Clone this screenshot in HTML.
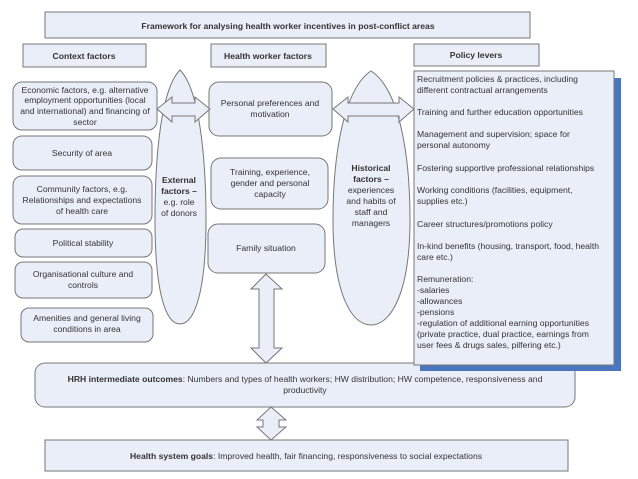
<!DOCTYPE html>
<html><head><meta charset="utf-8"><style>
body{margin:0;background:#fff}
svg{display:block}
text{font-family:"Liberation Sans",sans-serif;font-size:8.6px;fill:#333}
.b{font-weight:bold}
</style></head><body>
<svg width="638" height="479" viewBox="0 0 638 479" xmlns="http://www.w3.org/2000/svg">
<g fill="#e9eef8" stroke="#777" stroke-width="1">
<rect x="45" y="12" width="485" height="26"/>
<rect x="23" y="44" width="123" height="23"/>
<rect x="211" y="44" width="115" height="23"/>
<rect x="414" y="44" width="125" height="22"/>
<rect x="13" y="82" width="144" height="48" rx="9"/>
<rect x="13" y="136" width="139" height="34" rx="9"/>
<rect x="13" y="176" width="139" height="48" rx="9"/>
<rect x="15" y="229" width="137" height="28" rx="8"/>
<rect x="15" y="262" width="137" height="36" rx="8"/>
<rect x="21" y="308" width="132" height="34" rx="8"/>
<path d="M180,70 C198,88 206,150 206,220 C206,290 195,324 180,324 C165,324 155,290 155,220 C155,150 162,88 180,70 Z"/>
<path d="M371,71 C398,88 410,150 410,220 C410,290 392,325 371,325 C350,325 333,290 333,220 C333,150 345,88 371,71 Z"/>
<rect x="209" y="82" width="123" height="54" rx="10"/>
<rect x="211" y="158" width="117" height="51" rx="10"/>
<rect x="208" y="224" width="117" height="49" rx="10"/>
<polygon points="157,109 172,97 172,103 195,103 195,97 210,109 195,122 195,116 172,116 172,122"/>
<polygon points="333,109 348,97 348,103 399,103 399,97 414,109 399,122 399,116 348,116 348,122"/>
<polygon points="266,274 282,289 274,289 274,348 282,348 266,363 251,348 259,348 259,289 251,289"/>
<rect x="35" y="363" width="540" height="44" rx="10"/>
<polygon points="271,407 286,420 279,420 279,427 286,427 271,440 257,427 263,427 263,420 257,420"/>
<rect x="45" y="440" width="523" height="31"/>
</g>
<rect x="420" y="78" width="201" height="293" fill="#4a76c0"/>
<rect x="414" y="71" width="200" height="294" fill="#e9eef8" stroke="#777"/>
<g text-anchor="middle">
<text x="288" y="29" class="b">Framework for analysing health worker incentives in post-conflict areas</text>
<text x="84" y="59" class="b">Context factors</text>
<text x="268" y="59" class="b">Health worker factors</text>
<text x="476" y="58" class="b">Policy levers</text>
<text x="85" y="93">Economic factors, e.g. alternative</text>
<text x="85" y="103">employment opportunities (local</text>
<text x="85" y="114">and international) and financing of</text>
<text x="85" y="125">sector</text>
<text x="82" y="156">Security of area</text>
<text x="82" y="192">Community factors, e.g.</text>
<text x="82" y="203">Relationships and expectations</text>
<text x="82" y="214">of health care</text>
<text x="83" y="246">Political stability</text>
<text x="83" y="277">Organisational culture and</text>
<text x="83" y="288">controls</text>
<text x="87" y="321">Amenities and general living</text>
<text x="87" y="332">conditions in area</text>
<text x="179" y="183" class="b">External</text>
<text x="179" y="194" class="b">factors –</text>
<text x="179" y="205">e.g. role</text>
<text x="179" y="216">of donors</text>
<text x="371" y="171" class="b">Historical</text>
<text x="371" y="182" class="b">factors –</text>
<text x="371" y="193">experiences</text>
<text x="371" y="204">and habits of</text>
<text x="371" y="215">staff and</text>
<text x="371" y="226">managers</text>
<text x="270" y="106">Personal preferences and</text>
<text x="270" y="117">motivation</text>
<text x="270" y="175">Training, experience,</text>
<text x="270" y="186">gender and personal</text>
<text x="270" y="197">capacity</text>
<text x="266" y="251">Family situation</text>
<text x="305" y="382"><tspan class="b">HRH intermediate outcomes</tspan>: Numbers and types of health workers; HW distribution; HW competence, responsiveness and</text>
<text x="305" y="393">productivity</text>
<text x="306" y="459"><tspan class="b">Health system goals</tspan>: Improved health, fair financing, responsiveness to social expectations</text>
</g>
<g>
<text x="417" y="82">Recruitment policies &amp; practices, including</text>
<text x="417" y="93">different contractual arrangements</text>
<text x="417" y="115">Training and further education opportunities</text>
<text x="417" y="137">Management and supervision; space for</text>
<text x="417" y="148">personal autonomy</text>
<text x="417" y="171">Fostering supportive professional relationships</text>
<text x="417" y="193">Working conditions (facilities, equipment,</text>
<text x="417" y="204">supplies etc.)</text>
<text x="417" y="227">Career structures/promotions policy</text>
<text x="417" y="249">In-kind benefits (housing, transport, food, health</text>
<text x="417" y="260">care etc.)</text>
<text x="417" y="282">Remuneration:</text>
<text x="417" y="293">-salaries</text>
<text x="417" y="304">-allowances</text>
<text x="417" y="315">-pensions</text>
<text x="417" y="326">-regulation of additional earning opportunities</text>
<text x="417" y="337">(private practice, dual practice, earnings from</text>
<text x="417" y="348">user fees &amp; drugs sales, pilfering etc.)</text>
</g>
</svg>
</body></html>
